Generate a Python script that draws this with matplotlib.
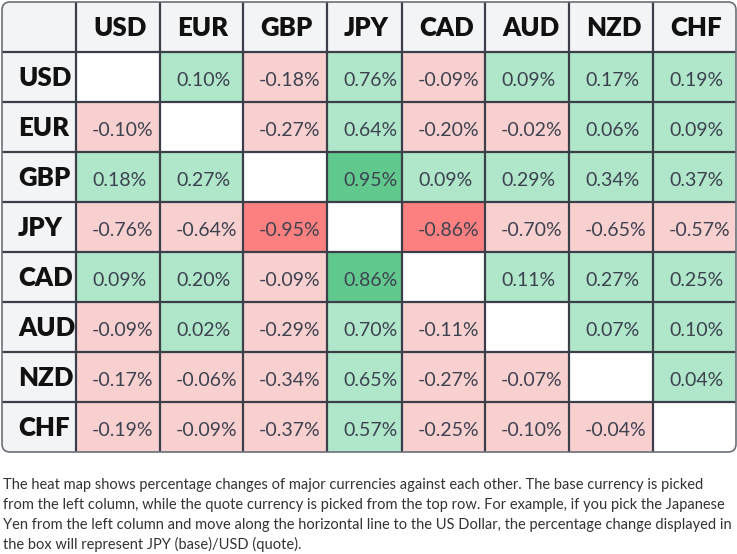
import numpy as np
import matplotlib
matplotlib.use("Agg")
import matplotlib.pyplot as plt
from matplotlib.colors import ListedColormap
from matplotlib.patches import FancyBboxPatch

plt.rcParams["font.family"] = ["Lato", "DejaVu Sans"]

currencies = ["USD", "EUR", "GBP", "JPY", "CAD", "AUD", "NZD", "CHF"]
nan = np.nan
changes = np.array([
    [nan, 0.10, -0.18, 0.76, -0.09, 0.09, 0.17, 0.19],
    [-0.10, nan, -0.27, 0.64, -0.20, -0.02, 0.06, 0.09],
    [0.18, 0.27, nan, 0.95, 0.09, 0.29, 0.34, 0.37],
    [-0.76, -0.64, -0.95, nan, -0.86, -0.70, -0.65, -0.57],
    [0.09, 0.20, -0.09, 0.86, nan, 0.11, 0.27, 0.25],
    [-0.09, 0.02, -0.29, 0.70, -0.11, nan, 0.07, 0.10],
    [-0.17, -0.06, -0.34, 0.65, -0.27, -0.07, nan, 0.04],
    [-0.19, -0.09, -0.37, 0.57, -0.25, -0.10, -0.04, nan],
])
note_lines = [
    "The heat map shows percentage changes of major currencies against each other. The base currency is picked",
    "from the left column, while the quote currency is picked from the top row. For example, if you pick the Japanese",
    "Yen from the left column and move along the horizontal line to the US Dollar, the percentage change displayed in",
    "the box will represent JPY (base)/USD (quote).",
]

# layout in pixels
col_edges = np.array([2, 76, 160, 243, 327, 402, 485, 569, 653, 736])
row_edges = np.array([2, 52, 102, 152, 202, 252, 302, 352, 402, 452])
pad = 16
base_off = 33.5
line_col = "#3b3f49"

# colour class per cell: 0 header, 1 blank, 2 light green, 3 green, 4 light red, 5 red
palette = ["#f3f4f6", "#ffffff", "#b0e6c9", "#62c98e", "#f9d0d0", "#fc8080"]
cls = np.zeros((9, 9))
for i in range(8):
    for j in range(8):
        v = changes[i, j]
        if np.isnan(v):
            c = 1
        elif v >= 0:
            c = 3 if v >= 0.8 else 2
        else:
            c = 5 if v <= -0.8 else 4
        cls[i + 1, j + 1] = c

fig = plt.figure(figsize=(7.37, 5.54), dpi=100)
ax = fig.add_axes([0, 0, 1, 1])
ax.set_xlim(0, 737)
ax.set_ylim(554, 0)
ax.axis("off")

frame = FancyBboxPatch((col_edges[0], row_edges[0]), col_edges[-1] - col_edges[0],
                       row_edges[-1] - row_edges[0], boxstyle="round,pad=0,rounding_size=8",
                       fc="none", ec="#6b6f78", lw=1.2, zorder=4)
ax.add_patch(frame)
mesh = ax.pcolormesh(col_edges, row_edges, cls, cmap=ListedColormap(palette),
                     vmin=-0.5, vmax=5.5, zorder=1)
mesh.set_clip_path(frame)

ax.vlines(col_edges[1:-1], row_edges[0], row_edges[-1], color=line_col, lw=1.6, zorder=3)
ax.hlines(row_edges[1:-1], col_edges[0], col_edges[-1], color=line_col, lw=1.6, zorder=3)

for k, cur in enumerate(currencies):
    ax.text(col_edges[k + 1] + pad + 1, row_edges[0] + base_off, cur, fontsize=18.5,
            fontweight="heavy", color="#111111", va="baseline", ha="left", zorder=5)
    ax.text(col_edges[0] + pad, row_edges[k + 1] + base_off, cur, fontsize=18.5,
            fontweight="heavy", color="#111111", va="baseline", ha="left", zorder=5)

for i in range(8):
    for j in range(8):
        v = changes[i, j]
        if np.isnan(v):
            continue
        ax.text(col_edges[j + 1] + pad, row_edges[i + 1] + base_off, f"{v:.2f}%",
                fontsize=14, color="#3c4250", va="baseline", ha="left", zorder=5)

for k, line in enumerate(note_lines):
    ax.text(3, 489 + 20 * k, line, fontsize=10.55, color="#333333",
            va="baseline", ha="left")

fig.savefig("out.png", dpi=100)
plt.close(fig)
